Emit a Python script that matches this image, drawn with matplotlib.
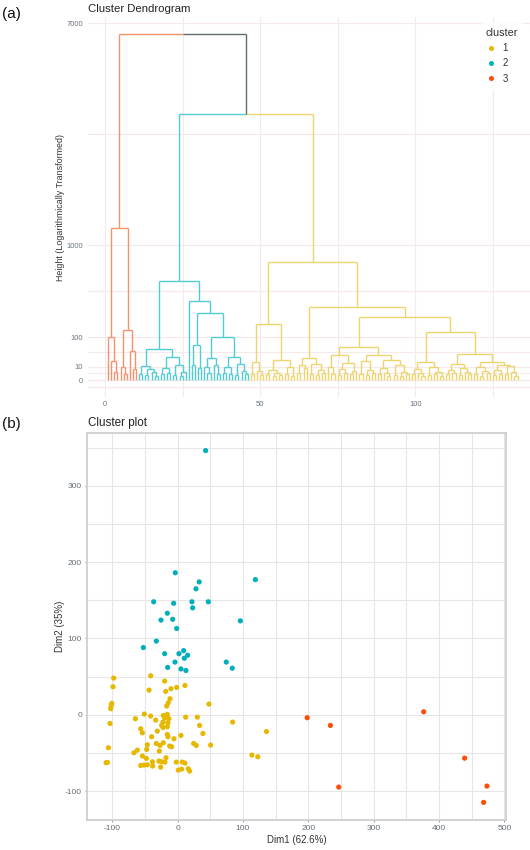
import re
import numpy as np
import matplotlib
matplotlib.use("Agg")
import matplotlib.pyplot as plt
from matplotlib.collections import LineCollection
from matplotlib.lines import Line2D

plt.rcParams["font.family"] = ["Liberation Sans", "DejaVu Sans"]
plt.rcParams["axes.unicode_minus"] = False

# ---- dendrogram: merge heights, "o" = one sample ----
red_tree = "((o,(o,(o,o)3.6)20)100,((o,(o,o)2)10,(o,(o,o)6.4)47)140)1270"
cyan_tree = ("((((o,o)2,((o,o)1.5,(o,(o,o)1)4)6.7)11.3,"
             "(((o,o)2,(o,o)3)8,((o,o)1.5,((o,o)1,o)4)12)30)52,"
             "(o,(((o,o)12,(o,o)8)68,"
             "(((o,(o,o)3)9,(o,(o,o)2)12)26,"
             "(((o,o)3,(o,o)2)10,((o,o)1.5,(o,(o,o)2)5)14)30)101)250)340)540")
yellow_tree = ("((((o,o)2,(o,(o,o)1.5)5)17,"
               "(((o,o)2,((o,o)1,(o,o)1.5)3)6,((o,o)2,(o,o)1)9)22)174,"
               "((((o,o)3,(o,o)8)12,((o,o)2,((o,o)1.5,(o,o)2.5)6)14)27,"
               "((((o,(o,o)2)10,(((o,o)1.5,(o,o)3)7,((o,o)2,o)5)16)34,"
               "(((o,o)2,((o,o)1.5,(o,o)3)6)19,(((o,o)2,(o,(o,o)1)3)8,"
               "((o,o)1.5,((o,o)1,(o,o)2)4)12)22)34)61,"
               "((((o,o)2,(o,(o,o)1)3)7,((o,o)1.5,((o,o)2,(o,o)1)4)10)17,"
               "((((o,o)2,(o,o)3)6,((o,o)1.5,(o,(o,o)2)4)8)13.5,"
               "(((o,o)2,((o,o)1,(o,o)3)5)9,(((o,o)1.5,(o,o)2)6,"
               "((o,o)2,(o,(o,o)1)4)11)13)17)36)128)216)296)770")
cyan_yellow_height = 3900
root_height = 6600

# ---- cluster plot (PCA coordinates) ----
dim1_c1 = [-97.9, -98.9, -100.9, -101.9, -102.4, -103.5, -106, -107.5, -109.6,
           -41.3, -43.8, -19.9, -18.3, -10.2, -1.5, 11.2, -11.7, -14.3, -16.8, 47.9,
           -64.7, -51, -41.3, -33.6, -21.9, -19.9, -22.4, -24.5, -22.4, -15.8, -13.3,
           -14.8, -15.8, 12.2, 30.1, 33.6,
           -56.6, -54, -31.1, -39.8, -46.4, -47.4, -32.6, -27, -28, -21.9, -15.8,
           -14.8, -12.2, -9.2, -5.6, 5.1, 24.5, 28.5, 38.7, 50.5, 84.1,
           -66.8, -61.7, -54, -47.9, -56.6, -51.5, -46.4, -38.7, -38.2, -28.5,
           -24.5, -19.4, -17.8, -26, -2, 1, 6.1, 7.1, 11.2, 16.3, 18.3,
           113.7, 122.8, 136]
dim2_c1 = [48, 36.7, 14.8, 11.4, 7.9, -11.4, -43.2, -62.4, -62.9,
           51.1, 32.3, 44.1, 30.6, 34.1, 35.8, 38.4, 21, 15.7, 11.4, 14,
           -5.2, 0.9, -1.7, -7, -0.9, -4.4, -9.6, -14, -16.6, 0.4, -5.2,
           -10.5, -15.7, -3.1, -3.1, -14,
           -18.3, -23.6, -21.4, -28.8, -39.3, -45.4, -37.6, -40.2, -47.6, -36.7, -25.8,
           -28.8, -41, -41.9, -31.4, -27.1, -37.6, -40.2, -24.5, -39.7, -9.6,
           -49.8, -46.3, -54.1, -57.2, -66.4, -65.9, -65.5, -61.6, -67.2, -60.7,
           -61.6, -62, -56.3, -68.6, -62, -72.5, -71.2, -62, -63.3, -70.7, -73.8,
           -52.8, -55, -22]
dim1_c2 = [42.8, -3.6, 119, 33, 28, -36.7, -6.1, 21.9, 23, 46.9, -15.8, -25.5,
           -7.6, -1.5, 96, -32.6, -52.5, -19.9, 9.2, 2, 15.3, -4.1, 10.2, -15.3,
           5.1, 12.7, 74.4, 83.6]
dim2_c2 = [346, 186, 177, 174, 165, 148, 146, 148, 140, 148, 133, 124,
           125, 113, 123, 96.5, 88, 80, 84, 80, 78, 69, 74, 62,
           60, 58, 69, 61]
dim1_c3 = [198.3, 233.9, 246.6, 376.6, 439.3, 473.5, 468.4]
dim2_c3 = [-3.9, -14, -94.7, 3.9, -56.8, -93.4, -114.8]

clusters = ["1", "2", "3"]
point_colors = ["#E7B800", "#00AFBB", "#FC4E07"]
line_colors = ["#ECD46E", "#52CCD3", "#F3926F"]
upper_color = "#5E6E6E"

W, H = 530, 850


def parse(s, cid):
    pos = 0

    def node():
        nonlocal pos
        if s[pos] == "o":
            pos += 1
            return ("leaf", cid)
        pos += 1
        a = node()
        pos += 1
        b = node()
        pos += 1
        m = re.match(r"[0-9.]+", s[pos:])
        pos += m.end()
        return (float(m.group()), a, b)

    return node()


tree = (root_height, parse(red_tree, 2),
        (cyan_yellow_height, parse(cyan_tree, 1), parse(yellow_tree, 0)))

segs, cols = [], []
counter = [0]


def layout(nd):
    if nd[0] == "leaf":
        counter[0] += 1
        return counter[0], 0.0, {nd[1]}
    h, a, b = nd
    kids = [layout(a), layout(b)]
    x = (kids[0][0] + kids[1][0]) / 2
    for xc, hc, cc in kids:
        c = line_colors[list(cc)[0]] if len(cc) == 1 else upper_color
        segs.append([(xc, hc), (xc, h)])
        segs.append([(x, h), (xc, h)])
        cols.append(c)
        cols.append(c)
    return x, h, kids[0][2] | kids[1][2]


layout(tree)

fig = plt.figure(figsize=(W / 100, H / 100), dpi=100)


def fx(px):
    return px / W


def fy(py):
    return 1 - py / H


# ---------------- (a) dendrogram ----------------
ax1 = fig.add_axes([fx(88), fy(397.3), (530 - 88) / W, (397.3 - 16.8) / H])
ax1.set_yscale("function", functions=(lambda v: np.sign(v) * np.sqrt(np.abs(v)),
                                      lambda v: np.sign(v) * v ** 2))
ax1.add_collection(LineCollection(segs, colors=cols, linewidths=1.0,
                                  capstyle="butt", zorder=3))
ax1.set_xlim(-5.5, 137)
ax1.set_ylim(-(4.05 ** 2), 85.2 ** 2)

yt = [0, 10, 100, 1000, 7000]
ax1.set_yticks(yt)
ax1.set_yticklabels([str(v) for v in yt])
sq = np.sqrt(yt)
ymin = [((sq[i] + sq[i + 1]) / 2) ** 2 for i in range(len(sq) - 1)] + [-(sq[1] / 2) ** 2]
ax1.set_yticks(ymin, minor=True)
ax1.set_xticks([0, 50, 100])
ax1.set_xticks([25, 75, 125], minor=True)
ax1.tick_params(which="both", length=0, labelsize=5.5, colors="#6b7580")
ax1.tick_params(axis="y", pad=3.4)
ax1.tick_params(axis="x", pad=3)
ax1.grid(True, which="both", color="#f5e9e9", linewidth=0.8, zorder=0)
for sp in ax1.spines.values():
    sp.set_visible(False)

handles = [Line2D([], [], ls="", marker="o", markersize=3.6, color=c, markeredgewidth=0)
           for c in point_colors]
leg = fig.legend(handles, clusters, title="cluster", loc="upper left",
                 bbox_to_anchor=(fx(476), fy(18)), frameon=True, fontsize=7,
                 title_fontsize=7.8, handlelength=1.0, handletextpad=0.7,
                 labelspacing=0.55, borderpad=0.5, alignment="left")
leg.get_frame().set_facecolor("white")
leg.get_frame().set_edgecolor("white")
leg.get_title().set_color("#333333")
for t in leg.get_texts():
    t.set_color("#333333")

fig.text(fx(88), fy(8.5), "Cluster Dendrogram", fontsize=8.2, color="#222222",
         va="center", ha="left")
fig.text(fx(60.5), fy(207.5), "Height (Logarithmically Transformed)", fontsize=6.4,
         color="#333333", rotation=90, va="center", ha="center")
fig.text(fx(2), fy(14), "(a)", fontsize=11, color="#111111", va="center", ha="left")

# ---------------- (b) cluster plot ----------------
ax2 = fig.add_axes([fx(87), fy(820), 419 / W, 387 / H])
for xs, ys, c in zip([dim1_c1, dim1_c2, dim1_c3], [dim2_c1, dim2_c2, dim2_c3], point_colors):
    ax2.scatter(xs, ys, s=14, color=c, edgecolors="none", zorder=3)

allx = np.array(dim1_c1 + dim1_c2 + dim1_c3)
ally = np.array(dim2_c1 + dim2_c2 + dim2_c3)
ex = 0.05 * (allx.max() - allx.min())
ey = 0.05 * (ally.max() - ally.min())
ax2.set_xlim(allx.min() - ex, allx.max() + ex)
ax2.set_ylim(ally.min() - ey, ally.max() + ey)
ax2.set_xticks([-100, 0, 100, 200, 300, 400, 500])
ax2.set_xticks([-50, 50, 150, 250, 350, 450], minor=True)
ax2.set_yticks([-100, 0, 100, 200, 300])
ax2.set_yticks([-50, 50, 150, 250, 350], minor=True)
ax2.grid(True, which="both", color="#e6e6e6", linewidth=0.8, zorder=0)
ax2.tick_params(which="major", length=1.6, width=0.8, color="#9a9a9a",
                labelsize=6, labelcolor="#666e77", pad=2)
ax2.tick_params(which="minor", length=0)
for sp in ax2.spines.values():
    sp.set_color("#cfcfcf")
    sp.set_linewidth(1.3)

fig.text(fx(88), fy(423), "Cluster plot", fontsize=8.4, color="#222222",
         va="center", ha="left")
fig.text(fx(296.5), fy(840), "Dim1 (62.6%)", fontsize=7, color="#333333",
         va="center", ha="center")
fig.text(fx(60), fy(626), "Dim2 (35%)", fontsize=7, color="#333333",
         rotation=90, va="center", ha="center")
fig.text(fx(2), fy(424), "(b)", fontsize=11, color="#111111", va="center", ha="left")

fig.savefig("out.png", dpi=100, facecolor="white")
